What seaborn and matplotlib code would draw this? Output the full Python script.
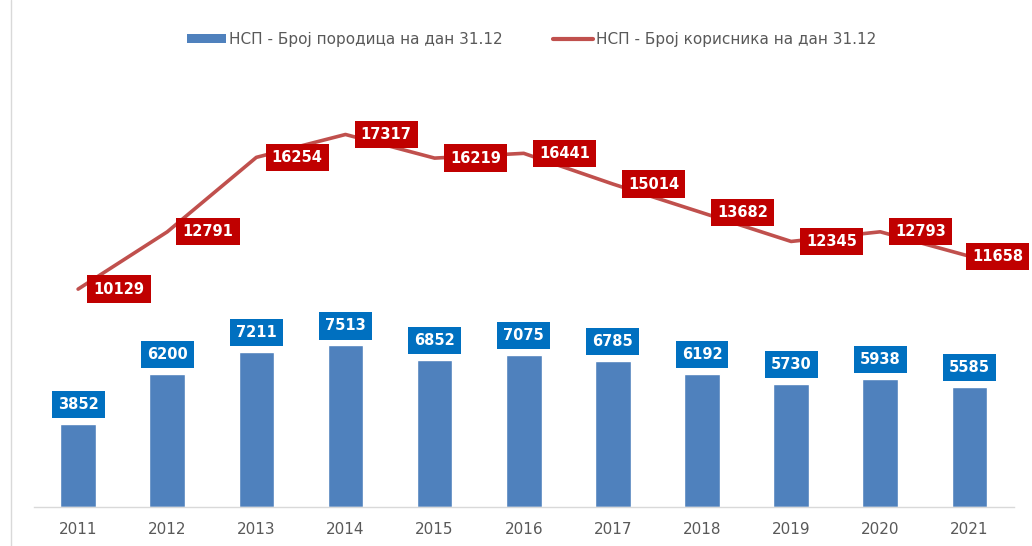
import matplotlib
matplotlib.use("Agg")
import matplotlib.pyplot as plt
from matplotlib.patches import Patch
from matplotlib.lines import Line2D
import pandas as pd
import seaborn as sns

# values
years = ["2011", "2012", "2013", "2014", "2015", "2016", "2017", "2018", "2019", "2020", "2021"]
families = [3852, 6200, 7211, 7513, 6852, 7075, 6785, 6192, 5730, 5938, 5585]
users = [10129, 12791, 16254, 17317, 16219, 16441, 15014, 13682, 12345, 12793, 11658]
bar_name = "НСП - Број породица на дан 31.12"
line_name = "НСП - Број корисника на дан 31.12"

df = pd.DataFrame({"year": years, "families": families, "users": users})

sns.set_theme(style="white")
plt.rcParams["font.family"] = ["DejaVu Sans"]

bar_col = "#4F81BD"
line_col = "#C0504D"

fig = plt.figure(figsize=(10.32, 5.46), dpi=100)
ax = fig.add_axes([0.0325, 0.0714, 0.95, 0.788])

sns.barplot(data=df, x="year", y="families", color=bar_col, width=0.4,
            saturation=1, ax=ax)
sns.lineplot(data=df, x="year", y="users", color=line_col, linewidth=2.6,
             ax=ax, sort=False)

ax.set_ylim(0, 20000)
ax.set_xlim(-0.5, len(years) - 0.5)
ax.set_xlabel("")
ax.set_ylabel("")
ax.set_yticks([])
ax.tick_params(axis="x", length=0, labelsize=11, labelcolor="#595959", pad=11)
for s in ["top", "right", "left"]:
    ax.spines[s].set_visible(False)
ax.spines["bottom"].set_color("#D9D9D9")
ax.spines["bottom"].set_linewidth(1)

# data labels
for i, v in enumerate(families):
    ax.annotate(str(v), (i, v), xytext=(0, 14), textcoords="offset points",
                ha="center", va="center", color="white", fontsize=10.5,
                fontweight="bold",
                bbox=dict(boxstyle="square,pad=0.42", fc="#0070C0", ec="none"))
for i, v in enumerate(users):
    # last label squeezed so it stays inside the figure
    dx = 11 if i < len(users) - 1 else 2
    ax.annotate(str(v), (i, v), xytext=(dx, 0), textcoords="offset points",
                ha="left", va="center", color="white", fontsize=10.5,
                fontweight="bold", annotation_clip=False,
                bbox=dict(boxstyle="square,pad=0.42", fc="#C00000", ec="none"))

handles = [Patch(facecolor=bar_col, edgecolor="none"),
           Line2D([0], [0], color=line_col, linewidth=3)]
fig.legend(handles, [bar_name, line_name], loc="center",
           bbox_to_anchor=(0.515, 0.928), ncol=2, frameon=False,
           fontsize=11, labelcolor="#595959", handlelength=2.6,
           handleheight=0.5, handletextpad=0.2, columnspacing=3.3)

# faint chart border on the left
fig.add_artist(Line2D([0.0105, 0.0105], [0, 1], color="#D9D9D9", linewidth=1,
                      transform=fig.transFigure))

fig.savefig("out.png", dpi=100)
